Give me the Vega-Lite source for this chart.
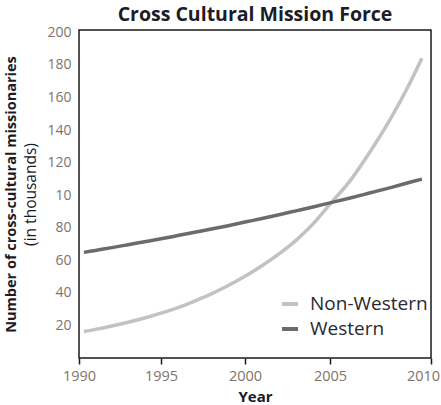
{
  "$schema": "https://vega.github.io/schema/vega-lite/v6.json",
  "width": 352,
  "height": 328,
  "autosize": "none",
  "padding": {"left": 79, "top": 30, "right": 10, "bottom": 47},
  "title": {
    "text": "Cross Cultural Mission Force",
    "font": "Open Sans",
    "fontSize": 19.5,
    "fontWeight": "bold",
    "color": "#1d1b26",
    "anchor": "middle",
    "offset": 0
  },
  "config": {
    "font": "Open Sans",
    "view": {"stroke": "#1a1a1a", "strokeWidth": 1.5}
  },
  "data": {
    "values": [
      {"year": 1990.3, "series": "Non-Western", "value": 16.3},
      {"year": 1991, "series": "Non-Western", "value": 17.6},
      {"year": 1992, "series": "Non-Western", "value": 19.7},
      {"year": 1993, "series": "Non-Western", "value": 22.0},
      {"year": 1994, "series": "Non-Western", "value": 24.6},
      {"year": 1995, "series": "Non-Western", "value": 27.6},
      {"year": 1996, "series": "Non-Western", "value": 31.0},
      {"year": 1997, "series": "Non-Western", "value": 35.0},
      {"year": 1998, "series": "Non-Western", "value": 39.4},
      {"year": 1999, "series": "Non-Western", "value": 44.5},
      {"year": 2000, "series": "Non-Western", "value": 50.2},
      {"year": 2001, "series": "Non-Western", "value": 56.7},
      {"year": 2002, "series": "Non-Western", "value": 64.0},
      {"year": 2003, "series": "Non-Western", "value": 72.3},
      {"year": 2004, "series": "Non-Western", "value": 82.3},
      {"year": 2005, "series": "Non-Western", "value": 94.5},
      {"year": 2006, "series": "Non-Western", "value": 109.0},
      {"year": 2007, "series": "Non-Western", "value": 127.0},
      {"year": 2008, "series": "Non-Western", "value": 147.0},
      {"year": 2009, "series": "Non-Western", "value": 170.0},
      {"year": 2009.55, "series": "Non-Western", "value": 184.1},
      {"year": 1990.3, "series": "Western", "value": 64.9},
      {"year": 1991, "series": "Western", "value": 66.1},
      {"year": 1992, "series": "Western", "value": 67.8},
      {"year": 1993, "series": "Western", "value": 69.6},
      {"year": 1994, "series": "Western", "value": 71.4},
      {"year": 1995, "series": "Western", "value": 73.2},
      {"year": 1996, "series": "Western", "value": 75.2},
      {"year": 1997, "series": "Western", "value": 77.2},
      {"year": 1998, "series": "Western", "value": 79.2},
      {"year": 1999, "series": "Western", "value": 81.3},
      {"year": 2000, "series": "Western", "value": 83.5},
      {"year": 2001, "series": "Western", "value": 85.7},
      {"year": 2002, "series": "Western", "value": 88.0},
      {"year": 2003, "series": "Western", "value": 90.4},
      {"year": 2004, "series": "Western", "value": 92.8},
      {"year": 2005, "series": "Western", "value": 95.3},
      {"year": 2006, "series": "Western", "value": 98.3},
      {"year": 2007, "series": "Western", "value": 101.5},
      {"year": 2008, "series": "Western", "value": 104.7},
      {"year": 2009, "series": "Western", "value": 108.1},
      {"year": 2009.55, "series": "Western", "value": 109.9}
    ]
  },
  "encoding": {
    "x": {
      "field": "year",
      "type": "quantitative",
      "scale": {"domain": [1990, 1995, 2000, 2005, 2010], "range": [0, 82, 166, 251, 352]},
      "axis": {
        "values": [1990, 1995, 2000, 2005, 2010],
        "format": "d",
        "grid": false,
        "domain": false,
        "ticks": true,
        "tickSize": 6,
        "tickWidth": 1.5,
        "tickColor": "#1a1a1a",
        "labelFont": "Open Sans",
        "labelFontSize": 14.5,
        "labelColor": "#7f736c",
        "labelPadding": 5,
        "labelFlush": false,
        "labelOffset": {"condition": {"test": "datum.value === 2010", "value": -8}, "value": 0},
        "title": "Year",
        "titleFont": "Open Sans",
        "titleFontSize": 15,
        "titleFontWeight": "bold",
        "titleColor": "#1d1b26",
        "titlePadding": 7
      }
    },
    "color": {
      "field": "series",
      "type": "nominal",
      "scale": {"domain": ["Non-Western", "Western"], "range": ["#c2c2c2", "#6b6b6b"]},
      "legend": {
        "orient": "none",
        "legendX": 201,
        "legendY": 264,
        "title": null,
        "padding": 0,
        "symbolType": "stroke",
        "symbolSize": 256,
        "symbolStrokeWidth": 4,
        "labelFont": "Open Sans",
        "labelFontSize": 19,
        "labelColor": "#2b2930",
        "labelOffset": 10,
        "rowPadding": 5
      }
    }
  },
  "layer": [
    {
      "transform": [{"filter": "datum.series === 'Non-Western'"}],
      "mark": {"type": "line", "strokeWidth": 3.5, "interpolate": "monotone"},
      "encoding": {
        "y": {
          "field": "value",
          "type": "quantitative",
          "scale": {"domain": [0, 201.5], "nice": false, "zero": true},
          "axis": {
            "orient": "left",
            "values": [20, 40, 60, 80, 100, 120, 140, 160, 180, 200],
            "labelExpr": "datum.value === 100 ? '10' : datum.label",
            "grid": false,
            "domain": false,
            "ticks": false,
            "labelFont": "Open Sans",
            "labelFontSize": 14,
            "labelColor": "#7f736c",
            "labelPadding": 8,
            "title": "(in thousands)",
            "titleFont": "Open Sans",
            "titleFontSize": 15.5,
            "titleFontWeight": "normal",
            "titleColor": "#1d1b26",
            "titlePadding": 8
          }
        }
      }
    },
    {
      "transform": [{"filter": "datum.series === 'Western'"}],
      "mark": {"type": "line", "strokeWidth": 3.5, "interpolate": "monotone"},
      "encoding": {
        "y": {
          "field": "value",
          "type": "quantitative",
          "axis": {
            "orient": "left",
            "labels": false,
            "grid": false,
            "domain": false,
            "ticks": false,
            "title": "Number of cross-cultural missionaries",
            "titleFont": "Open Sans",
            "titleFontSize": 14.5,
            "titleFontWeight": "bold",
            "titleColor": "#1d1b26",
            "titlePadding": 61
          }
        }
      }
    }
  ],
  "resolve": {"axis": {"y": "independent"}}
}
